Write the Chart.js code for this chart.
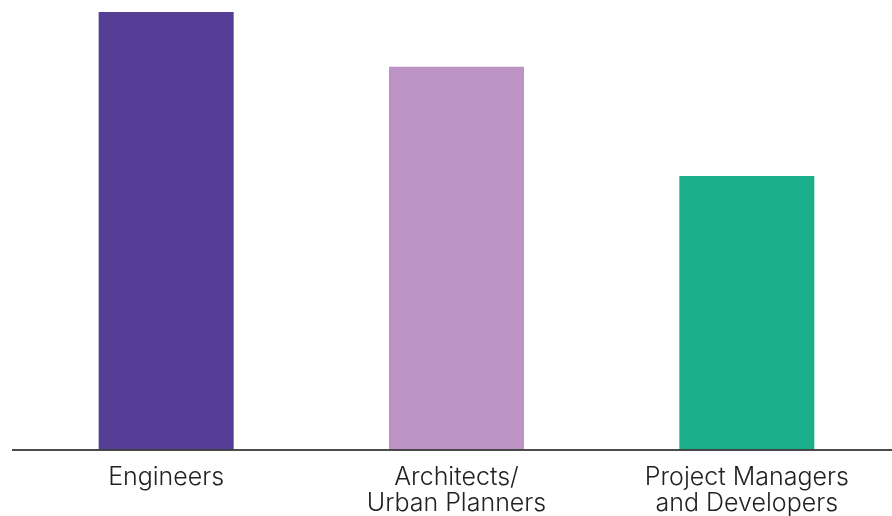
<!DOCTYPE html>
<html>
<head>
<meta charset="utf-8">
<script src="https://cdn.jsdelivr.net/npm/chart.js@4/dist/chart.umd.min.js"></script>
<style>
  html, body { margin: 0; padding: 0; background: #fff; }
  #wrap { width: 892px; height: 516px; }
</style>
</head>
<body>
<div id="wrap"><canvas id="roles"></canvas></div>
<script>
// ── DATA ──
const categories = [
  'Engineers',
  ['Architects/', 'Urban Planners'],
  ['Project Managers', 'and Developers']
];
const values = [80, 70, 50];
const barColors = ['#563d96', '#bc93c4', '#1aaf8a'];

// baseline drawn a bit wider than the plot, like a rule under the bars
const baselinePlugin = {
  id: 'baseline',
  afterDatasetsDraw(chart) {
    const { ctx, chartArea, width } = chart;
    ctx.save();
    ctx.strokeStyle = '#111';
    ctx.lineWidth = 1.5;
    ctx.beginPath();
    ctx.moveTo(12, chartArea.bottom + 0.5);
    ctx.lineTo(width, chartArea.bottom + 0.5);
    ctx.stroke();
    ctx.restore();
  }
};

new Chart(document.getElementById('roles'), {
  type: 'bar',
  data: {
    labels: categories,
    datasets: [{
      data: values,
      backgroundColor: barColors,
      borderWidth: 0,
      barPercentage: 0.93,
      categoryPercentage: 0.5
    }]
  },
  options: {
    responsive: true,
    maintainAspectRatio: false,
    animation: false,
    layout: { padding: { top: 12, left: 21, right: 0, bottom: -15 } },
    plugins: {
      legend: { display: false },
      tooltip: { enabled: false }
    },
    scales: {
      x: {
        grid: { display: false, drawTicks: false },
        border: { display: false },
        ticks: {
          color: '#222',
          padding: 15,
          maxRotation: 0,
          autoSkip: false,
          font: { family: 'Inter', size: 25, weight: 300, lineHeight: 1.03 }
        }
      },
      y: {
        display: false,
        min: 0,
        max: 80
      }
    }
  },
  plugins: [baselinePlugin]
});
</script>
</body>
</html>
